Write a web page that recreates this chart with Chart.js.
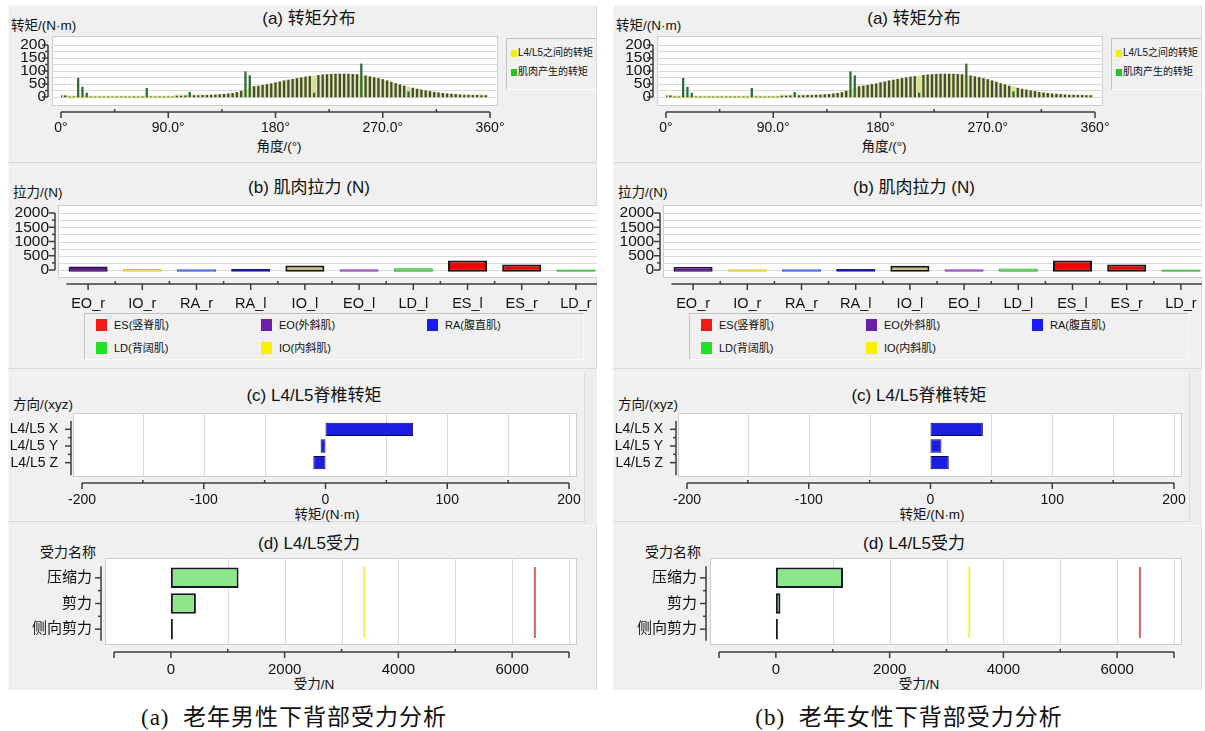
<!DOCTYPE html>
<html lang="zh">
<head>
<meta charset="utf-8">
<title>老年人下背部受力分析</title>
<script src="https://cdn.jsdelivr.net/npm/chart.js@4.4.1/dist/chart.umd.min.js"></script>
<style>
  html, body { margin: 0; padding: 0; background: #fff; }
  body { width: 1205px; height: 731px; position: relative; overflow: hidden;
         font-family: "Liberation Sans", "Noto Sans CJK SC", sans-serif; color: #111; }
  .side { position: absolute; top: 0; width: 600px; height: 731px; }
  .bg { position: absolute; left: 8px; top: 5px; width: 589px; height: 685px; background: #ededed; overflow: hidden; }
  .sub { position: absolute; box-sizing: border-box; background: #f0f0f0;
         border: 1px solid #f8f8f8; border-right-color: #dadada; border-bottom-color: #dadada; }
  .txt { position: absolute; white-space: pre; line-height: 1; }
  canvas { position: absolute; left: 0; top: 0; }
  .legend { position: absolute; box-sizing: border-box;
            border-left: 1px solid #c2c2c2; border-top: 1px solid #c2c2c2;
            border-right: 1px solid #fafafa; border-bottom: 1px solid #fafafa; }
  .key { position: absolute; }
  .caption { position: absolute; top: 706px; white-space: pre; line-height: 1;
             font-family: "Liberation Serif", "Noto Sans CJK SC", serif; font-size: 23px;
             letter-spacing: 1px; transform: translateX(-50%); }
</style>
</head>
<body>
<script>
// ---- (a) 转矩分布：每 3.6° 一根柱 ----
const TORQUE_STEP = 3.6;
const TORQUE_SERIES = ['L4/L5之间的转矩', '肌肉产生的转矩'];
const TORQUE_X_TICKS = [0, 90, 180, 270, 360];
const TORQUE_X_LABELS = ['0°', '90.0°', '180°', '270.0°', '360°'];
const TORQUE_Y_TICKS = [0, 50, 100, 150, 200];
const L45_TORQUE = [
  4, 4, 0, 0, 0, 0, 0, 0, 0, 0,
  0, 0, 0, 0, 0, 0, 0, 0, 0, 0,
  0, 0, 0, 0, 0, 0, 0, 3, 3, 4,
  4, 5, 5, 6, 6, 7, 8, 9, 10, 12,
  14, 17, 22, 28, 34, 40, 42, 45, 48, 51,
  55, 58, 62, 65, 68, 71, 74, 77, 79, 81,
  83, 85, 86, 87, 88, 88, 88, 88, 87, 86,
  84, 81, 78, 75, 71, 67, 62, 57, 52, 47,
  42, 38, 34, 30, 27, 24, 21, 18, 16, 14,
  12, 11, 10, 8, 7, 7, 6, 6, 5, 5
];
const MUSCLE_TORQUE = [
  4, 4, 0, 0, 72, 38, 15, 0, 0, 0,
  0, 0, 0, 0, 0, 0, 0, 0, 0, 0,
  33, 0, 0, 0, 0, 0, 0, 3, 3, 4,
  18, 5, 5, 6, 6, 7, 8, 9, 10, 12,
  14, 17, 22, 97, 82, 40, 42, 45, 48, 51,
  55, 58, 62, 65, 68, 71, 74, 77, 79, 15,
  83, 85, 86, 87, 88, 88, 88, 88, 87, 86,
  127, 81, 78, 75, 71, 67, 62, 57, 52, 47,
  42, 20, 34, 30, 27, 24, 21, 18, 16, 14,
  12, 11, 10, 8, 7, 7, 6, 6, 5, 5
];

// ---- (b) 肌肉拉力 ----
const MUSCLES = ['EO_r', 'IO_r', 'RA_r', 'RA_l', 'IO_l', 'EO_l', 'LD_l', 'ES_l', 'ES_r', 'LD_r'];
const MUSCLE_FORCE_MALE = [120, 35, 25, 45, 160, 30, 60, 330, 190, 20];
const MUSCLE_FORCE_FEMALE = [110, 30, 25, 40, 150, 30, 55, 330, 190, 20];
const MUSCLE_Y_TICKS = [0, 500, 1000, 1500, 2000];
const MUSCLE_GROUPS = ['ES(竖脊肌)', 'EO(外斜肌)', 'RA(腹直肌)', 'LD(背阔肌)', 'IO(内斜肌)'];

// ---- (c) L4/L5 脊椎转矩 ----
const MOMENT_AXES = ['L4/L5 X', 'L4/L5 Y', 'L4/L5 Z'];
const MOMENT_MALE = [72, -4, -10];
const MOMENT_FEMALE = [43, 9, 15];
const MOMENT_X_TICKS = [-200, -100, 0, 100, 200];

// ---- (d) L4/L5 受力 ----
const FORCE_NAMES = ['压缩力', '剪力', '侧向剪力'];
const FORCE_MALE = [1190, 440, 10];
const FORCE_FEMALE = [1180, 80, 10];
const FORCE_LIMITS = [3400, 6400];
const FORCE_X_TICKS = [0, 2000, 4000, 6000];

// colours
const MUSCLE_BAR_FILL = ['#5a1a8c', '#f0e03c', '#4262f5', '#2f3ff0', '#cdbd78', '#9a48d8', '#3fd23f', '#f20000', '#e60000', '#3ddc3d'];
const MUSCLE_BAR_EDGE = ['#2c0a4a', '#d8c628', '#3050d8', '#1c1c90', '#151515', '#7a30b8', '#2a9a2a', '#151515', '#151515', '#2ab02a'];
const MUSCLE_BAR_EDGE_W = [1.5, 1, 1, 1.5, 2, 1, 1, 2, 2, 1];
const GROUP_COLORS = ['#f01818', '#6a1fa8', '#1a1af5', '#22e022', '#f8f000'];
const LIMIT_COLORS = ['#f3ee5a', '#dc6262'];

Chart.defaults.font.family = '"Liberation Sans", "Noto Sans CJK SC", sans-serif';
Chart.defaults.color = '#111';

// canvases sit inside the grey panel (page offset OX, OY)
const OX = 8, OY = 5, CW = 600, CH = 685;

// plot area given in page pixels; the axes fill all the room left and below it
function area(l, t, r, b) {
  return {
    padding: { left: 0, top: t - OY, right: CW - (r - OX), bottom: 0 },
    yw: l - OX,
    xh: CH - (b - OY)
  };
}
const NOGRID = { display: false, drawTicks: false };
const NOBORDER = { display: false };
const setTicks = list => s => { s.ticks = list.map(v => ({ value: v })); };
const plain = v => String(v);

function seg(ctx, x0, y0, x1, y1) {
  ctx.beginPath(); ctx.moveTo(x0, y0); ctx.lineTo(x1, y1); ctx.stroke();
}

// white plot box, grid lines, offset axis lines with major/minor ticks, limit lines
const decor = {
  id: 'decor',
  beforeDraw(chart, args, o) {
    if (!o.box) return;
    const ctx = chart.ctx;
    const [x0, y0, x1, y1] = [o.box[0] - OX, o.box[1] - OY, o.box[2] - OX, o.box[3] - OY];
    ctx.save();
    ctx.fillStyle = '#fff';
    ctx.fillRect(x0, y0, x1 - x0, y1 - y0);
    ctx.strokeStyle = '#cdcdcd';
    ctx.lineWidth = 1;
    ctx.strokeRect(x0 + 0.5, y0 + 0.5, x1 - x0 - 1, y1 - y0 - 1);
    ctx.strokeStyle = '#d9d9d9';
    (o.hGrid || []).forEach(v => {
      const y = Math.round(chart.scales.y.getPixelForValue(v)) + 0.5;
      seg(ctx, x0, y, x1, y);
    });
    (o.vGrid || []).forEach(v => {
      const x = Math.round(chart.scales.x.getPixelForValue(v)) + 0.5;
      seg(ctx, x, y0, x, y1);
    });
    ctx.restore();
  },
  afterDatasetsDraw(chart, args, o) {
    if (!o.limits) return;
    const ctx = chart.ctx, s = chart.scales.x;
    ctx.save();
    ctx.lineWidth = 2;
    o.limits.forEach((v, i) => {
      ctx.strokeStyle = LIMIT_COLORS[i];
      const x = s.getPixelForValue(v);
      seg(ctx, x, o.limitSpan[0] - OY, x, o.limitSpan[1] - OY);
    });
    ctx.restore();
  },
  afterDraw(chart, args, o) {
    const ctx = chart.ctx;
    ctx.save();
    ctx.strokeStyle = '#3c3c3c';
    ctx.lineWidth = 1.5;
    const xa = o.xAxis, ya = o.yAxis;
    if (xa) {
      const s = chart.scales.x, y = xa.at - OY;
      seg(ctx, s.getPixelForValue(xa.from), y, s.getPixelForValue(xa.to), y);
      xa.major.forEach(v => { const x = s.getPixelForValue(v); seg(ctx, x, y, x, y + 6); });
      xa.minor.forEach(v => { const x = s.getPixelForValue(v); seg(ctx, x, y, x, y - 3); });
    }
    if (ya) {
      const s = chart.scales.y, x = ya.at - OX;
      seg(ctx, x, s.getPixelForValue(ya.from), x, s.getPixelForValue(ya.to));
      ya.major.forEach(v => { const y = s.getPixelForValue(v); seg(ctx, x, y, x - 6, y); });
      ya.minor.forEach(v => { const y = s.getPixelForValue(v); seg(ctx, x, y, x - 3, y); });
    }
    ctx.restore();
  }
};
Chart.register(decor);

function el(tag, cls, parent) {
  const e = document.createElement(tag);
  if (cls) e.className = cls;
  parent.appendChild(e);
  return e;
}

function newCanvas(bg) {
  const c = el('canvas', '', bg);
  c.width = CW; c.height = CH;
  return c;
}

function common(a, decorOpts) {
  return {
    responsive: false, animation: false, events: [],
    layout: { padding: a.padding },
    plugins: { legend: { display: false }, tooltip: { enabled: false }, decor: decorOpts }
  };
}

// shared look of both axes; ticks/range added per chart
function axes(a, x, y) {
  const tick = (size, pad, extra) => Object.assign({ padding: pad, font: { size }, autoSkip: false, maxRotation: 0 }, extra);
  return {
    x: Object.assign({ grid: NOGRID, border: NOBORDER, afterFit: s => { s.height = a.xh; } },
                     x, { ticks: tick(x.size || 14, x.pad, x.ticks) }),
    y: Object.assign({ grid: NOGRID, border: NOBORDER, afterFit: s => { s.width = a.yw; } },
                     y, { ticks: tick(y.size || 14, y.pad, y.ticks) })
  };
}

function text(parent, str, x, y, size, align) {
  const d = el('div', 'txt', parent);
  d.textContent = str;
  d.style.left = (x - OX) + 'px';
  d.style.top = (y - OY) + 'px';
  d.style.fontSize = size + 'px';
  d.style.transform = align === 'center' ? 'translate(-50%,-50%)' : 'translate(0,-50%)';
  return d;
}

function rect(node, x0, y0, x1, y1) {
  node.style.left = (x0 - OX) + 'px';
  node.style.top = (y0 - OY) + 'px';
  node.style.width = (x1 - x0) + 'px';
  node.style.height = (y1 - y0) + 'px';
}

function torqueChart(bg) {
  const angles = L45_TORQUE.map((_, i) => +(i * TORQUE_STEP).toFixed(1));
  const pts = vals => vals.map((v, i) => ({ x: angles[i], y: v }));
  const spike = c => MUSCLE_TORQUE[c.dataIndex] !== L45_TORQUE[c.dataIndex];
  const a = area(61, 45, 490, 112);
  new Chart(newCanvas(bg), {
    type: 'bar',
    data: {
      datasets: [
        { label: TORQUE_SERIES[1], data: pts(MUSCLE_TORQUE), order: 0, grouped: false,
          barThickness: 1.6, backgroundColor: c => spike(c) ? '#2b6b36' : '#46493c' },
        { label: TORQUE_SERIES[0], data: pts(L45_TORQUE), order: 1, grouped: false,
          barThickness: 3.4, minBarLength: 2, backgroundColor: '#d6e08e' }
      ]
    },
    options: {
      ...common(a, {
        box: [52, 36, 498, 106],
        hGrid: [0, 25, 50, 75, 100, 125, 150, 175, 200],
        xAxis: { at: 112, from: 0, to: 360, major: TORQUE_X_TICKS, minor: [45, 135, 225, 315] },
        yAxis: { at: 48, from: 0, to: 200, major: TORQUE_Y_TICKS, minor: [25, 75, 125, 175] }
      }),
      scales: axes(a,
        { type: 'linear', min: 0, max: 360, offset: false, afterBuildTicks: setTicks(TORQUE_X_TICKS),
          pad: 8, ticks: { callback: (v, i) => TORQUE_X_LABELS[i] } },
        { min: -58, max: 200, afterBuildTicks: setTicks(TORQUE_Y_TICKS), pad: 15, size: 15.5,
          ticks: { callback: plain } })
    }
  });
}

function muscleChart(bg, values) {
  const a = area(61, 213, 603, 283);
  new Chart(newCanvas(bg), {
    type: 'bar',
    data: {
      labels: MUSCLES,
      datasets: [{ data: values, base: -60, backgroundColor: MUSCLE_BAR_FILL, borderColor: MUSCLE_BAR_EDGE,
                   borderWidth: MUSCLE_BAR_EDGE_W, borderSkipped: false,
                   barPercentage: 0.72, categoryPercentage: 1 }]
    },
    options: {
      ...common(a, {
        box: [58, 205, 600, 278],
        hGrid: [0, 250, 500, 750, 1000, 1250, 1500, 1750, 2000],
        xAxis: { at: 284, from: -0.4, to: 9.9, major: [0, 1, 2, 3, 4, 5, 6, 7, 8, 9],
                 minor: [0.5, 1.5, 2.5, 3.5, 4.5, 5.5, 6.5, 7.5, 8.5] },
        yAxis: { at: 55, from: 0, to: 2000, major: MUSCLE_Y_TICKS, minor: [250, 750, 1250, 1750] }
      }),
      scales: axes(a,
        { pad: 12, size: 14.5 },
        { min: -455, max: 2000, afterBuildTicks: setTicks(MUSCLE_Y_TICKS), pad: 12, size: 15.5,
          ticks: { callback: plain } })
    }
  });
}

function momentChart(bg, values) {
  const a = area(82, 421, 569, 471);
  new Chart(newCanvas(bg), {
    type: 'bar',
    data: {
      labels: MOMENT_AXES,
      datasets: [{ data: values, backgroundColor: '#1d1de2', borderColor: '#0a0a40', borderWidth: 1,
                   borderSkipped: false, barPercentage: 0.8, categoryPercentage: 1 }]
    },
    options: {
      indexAxis: 'y',
      ...common(a, {
        box: [73, 413, 577, 477],
        vGrid: [-150, -100, -50, 50, 100, 150, 200],
        xAxis: { at: 483, from: -200, to: 200, major: MOMENT_X_TICKS, minor: [-150, -50, 50, 150] },
        yAxis: { at: 71, from: -0.5, to: 2.75, major: [0, 1, 2], minor: [0.5, 1.5] }
      }),
      scales: axes(a,
        { min: -200, max: 200, afterBuildTicks: setTicks(MOMENT_X_TICKS), pad: 21, ticks: { callback: plain } },
        { pad: 24 })
    }
  });
}

function forceChart(bg, values) {
  const a = area(114, 565, 569, 642);
  new Chart(newCanvas(bg), {
    type: 'bar',
    data: {
      labels: FORCE_NAMES,
      datasets: [{ data: values, backgroundColor: '#8ee68a', borderColor: '#17172c', borderWidth: 2,
                   borderSkipped: false, minBarLength: 2, barPercentage: 0.8, categoryPercentage: 1 }]
    },
    options: {
      indexAxis: 'y',
      ...common(a, {
        box: [105, 558, 577, 645],
        vGrid: [1000, 2000, 3000, 4000, 5000, 6000, 7000],
        xAxis: { at: 652, from: -1000, to: 7000, major: [-1000, 0, 2000, 4000, 6000, 7000], minor: [1000, 3000, 5000] },
        yAxis: { at: 101, from: -0.45, to: 2.45, major: [0, 1, 2], minor: [0.5, 1.5] },
        limits: FORCE_LIMITS,
        limitSpan: [567, 638]
      }),
      scales: axes(a,
        { min: -1000, max: 7000, afterBuildTicks: setTicks(FORCE_X_TICKS), pad: 19, size: 15,
          ticks: { callback: plain } },
        { pad: 22, size: 15 })
    }
  });
}

function buildSide(left, d) {
  const side = el('div', 'side', document.body);
  side.style.left = left + 'px';
  const bg = el('div', 'bg', side);

  [[8, 5, 597, 163], [8, 166, 597, 369], [8, 372, 585, 522], [8, 525, 597, 692]]
    .forEach(r => rect(el('div', 'sub', bg), ...r));

  // titles and axis names
  text(bg, '(a) 转矩分布', 309, 18, 17, 'center');
  text(bg, '转矩/(N·m)', 11, 26, 13.5);
  text(bg, '角度/(°)', 279, 147, 13.5, 'center');
  text(bg, '(b) 肌肉拉力 (N)', 309, 187, 17, 'center');
  text(bg, '拉力/(N)', 13, 193, 13.5);
  text(bg, '(c) L4/L5脊椎转矩', 314, 395, 17, 'center');
  text(bg, '方向/(xyz)', 13, 405, 13.5);
  text(bg, '转矩/(N·m)', 327, 515, 13.5, 'center');
  text(bg, '(d) L4/L5受力', 309, 543, 17, 'center');
  text(bg, '受力名称', 40, 552, 14);
  text(bg, '受力/N', 314, 685, 13.5, 'center');

  // legend of the torque chart
  rect(el('div', 'legend', bg), 506, 38, 600, 90);
  [['#f2f000', 53], ['#22c422', 72]].forEach(([c, y], i) => {
    const k = el('div', 'key', bg);
    rect(k, 511, y - 3, 517, y + 4);
    k.style.background = c;
    text(bg, TORQUE_SERIES[i], 518, y, 10);
  });

  // legend of the muscle chart
  rect(el('div', 'legend', bg), 84, 313, 584, 360);
  [[96, 325], [261, 325], [427, 325], [96, 348], [261, 348]].forEach(([x, y], i) => {
    const k = el('div', 'key', bg);
    rect(k, x, y - 6, x + 11, y + 6);
    k.style.background = GROUP_COLORS[i];
    text(bg, MUSCLE_GROUPS[i], x + 18, y, 11);
  });

  torqueChart(bg);
  muscleChart(bg, d.muscle);
  momentChart(bg, d.moment);
  forceChart(bg, d.force);

  const cap = el('div', 'caption', side);
  cap.textContent = d.caption;
  cap.style.left = d.capX + 'px';
}

buildSide(0, { muscle: MUSCLE_FORCE_MALE, moment: MOMENT_MALE, force: FORCE_MALE,
               caption: '(a)  老年男性下背部受力分析', capX: 294 });
buildSide(605, { muscle: MUSCLE_FORCE_FEMALE, moment: MOMENT_FEMALE, force: FORCE_FEMALE,
                 caption: '(b)  老年女性下背部受力分析', capX: 304 });
</script>
</body>
</html>
